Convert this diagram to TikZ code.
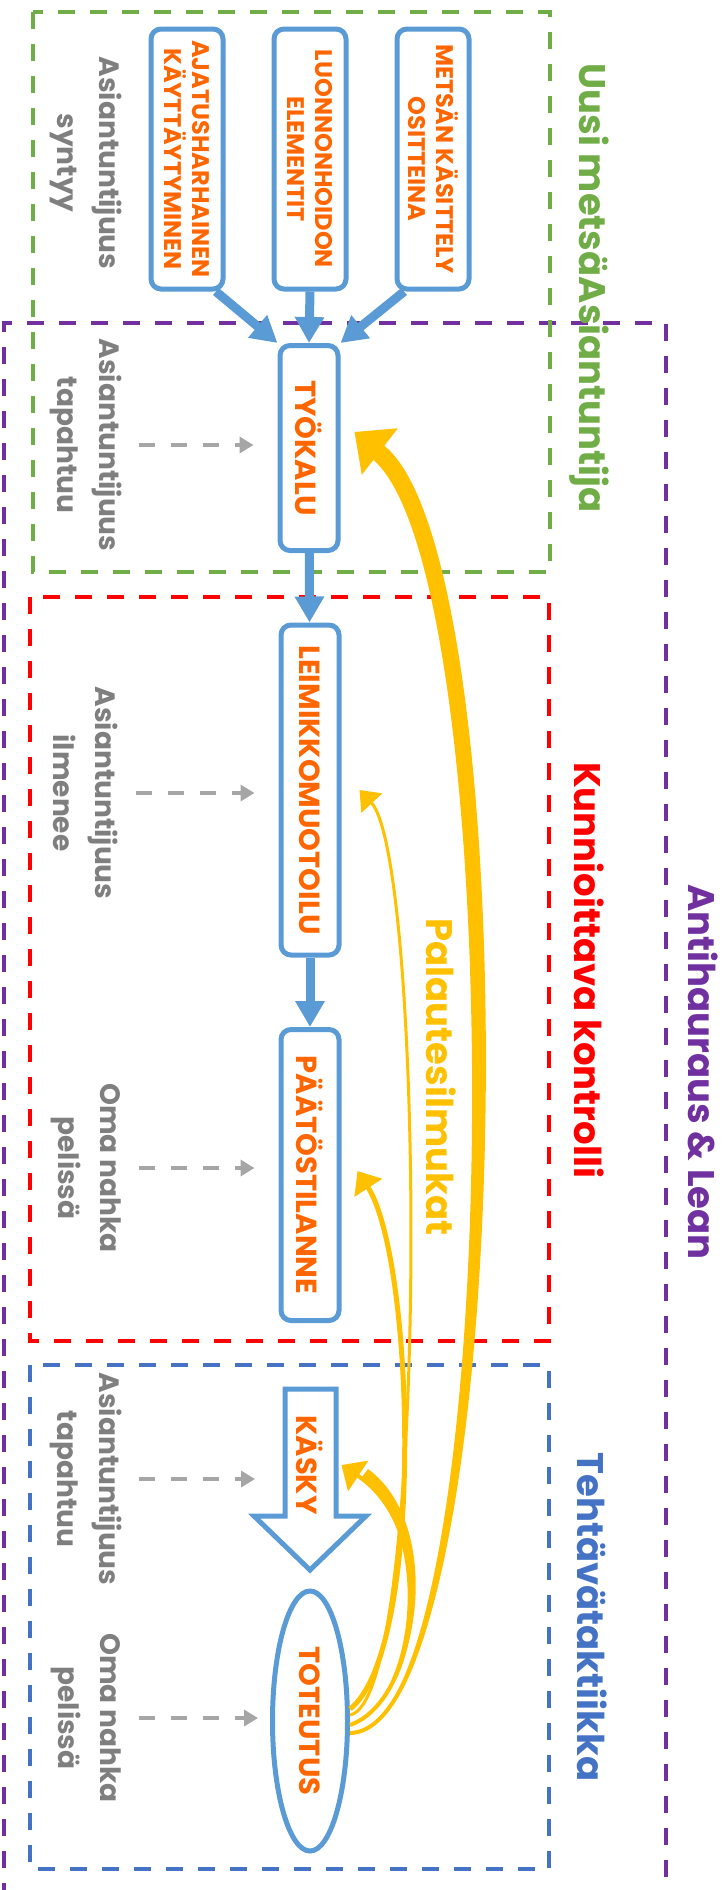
\documentclass[tikz,border=0pt]{standalone}
\usepackage{fontspec}
\setmainfont{Poppins}
\usetikzlibrary{arrows.meta,shapes.geometric,calc}
\definecolor{boxblue}{HTML}{5B9BD5}
\definecolor{txtorange}{HTML}{FF6600}
\definecolor{labgray}{HTML}{7F7F7F}
\definecolor{arrgray}{HTML}{A6A6A6}
\definecolor{uusigreen}{HTML}{70AD47}
\definecolor{antipurple}{HTML}{7030A0}
\definecolor{tehtblue}{HTML}{4472C4}
\definecolor{palyellow}{HTML}{FFC000}

\begin{document}
\begin{tikzpicture}[x=1pt, y=-1pt,
  box/.style={draw=boxblue, line width=5pt, rounded corners=10pt, fill=white, text=txtorange,
    rotate=-90, align=center, inner sep=0pt},
  small/.style={font=\bfseries\fontsize{24pt}{28pt}\selectfont, minimum width=260pt, minimum height=72pt},
  big/.style={font=\bfseries\fontsize{29pt}{33pt}\selectfont, minimum height=58pt},
  side/.style={text=labgray, font=\bfseries\fontsize{28pt}{42pt}\selectfont, rotate=-90, align=center},
  title/.style={font=\bfseries\fontsize{37pt}{44pt}\selectfont, rotate=-90},
  frame/.style={dash pattern=on 17pt off 15pt, line width=4pt},
  flow/.style={draw=boxblue, line width=9pt, -{Triangle[length=26pt,width=28pt]}},
  dasharr/.style={draw=arrgray, line width=4pt, dash pattern=on 16pt off 16pt,
    -{Triangle[length=14pt,width=16pt]}},
  fb/.style={draw=palyellow}]
  \useasboundingbox (0,0) rectangle (724,1890);

  % frames
  \draw[frame, antipurple] (4,1900) -- (4,323) -- (666,323) -- (666,1900);
  \draw[frame, uusigreen] (33,12) rectangle (550,572);
  \draw[frame, red] (30,597) rectangle (549,1341);
  \draw[frame, tehtblue] (30,1365) rectangle (549,1869);

  % titles
  \node[title, text=uusigreen] (tuusi) at (589,288) {Uusi metsäAsiantuntija};
  \node[title, text=antipurple] (tanti) at (703,1072) {Antihauraus \& Lean};
  \node[title, text=red] (tkun) at (589,970) {Kunnioittava kontrolli};
  \node[title, text=palyellow] (tpal) at (441,1077) {Palautesilmukat};
  \node[title, text=tehtblue] (tteh) at (592,1617) {Tehtävätaktiikka};

  % top boxes
  \node[box, small] (aja) at (187,159) {AJATUSHARHAINEN\\KÄYTTÄYTYMINEN};
  \node[box, small] (luo) at (310,159) {LUONNONHOIDON\\ELEMENTIT};
  \node[box, small] (met) at (433,159) {METSÄN KÄSITTELY\\OSITTEINA};

  % main chain
  \node[box, big, minimum width=205pt] (tyo) at (309,448) {TYÖKALU};
  \node[box, big, minimum width=330pt] (lei) at (310,790) {LEIMIKKOMUOTOILU};
  \node[box, big, minimum width=291pt] (paa) at (310,1175) {PÄÄTÖSTILANNE};
  \draw[draw=boxblue, line width=5pt, fill=white, line join=miter]
    (285,1389) -- (336,1389) -- (336,1516) -- (366,1516) -- (310,1570)
    -- (254,1516) -- (285,1516) -- cycle;
  \node[text=txtorange, font=\bfseries\fontsize{29pt}{33pt}\selectfont, rotate=-90] (kas) at (310,1465) {KÄSKY};
  \coordinate (kasl) at (283,1477);
  \node[ellipse, draw=boxblue, line width=5pt, fill=white, text=txtorange, rotate=-90,
    font=\bfseries\fontsize{29pt}{33pt}\selectfont, minimum width=260pt, minimum height=75pt] (tot) at (310,1721) {TOTEUTUS};

  \draw[flow] ($(aja.east)!0.75!(aja.north east)$) -- (tyo.south west);
  \draw[flow] (luo.east) -- (tyo.west);
  \draw[flow] ($(met.east)!0.75!(met.south east)$) -- (tyo.north west);
  \draw[flow] (tyo) -- (lei);
  \draw[flow] (lei) -- (paa);

  % side labels
  \node[side] (s1) at (86,163) {Asiantuntijuus\\syntyy};
  \node[side] (s2) at (86,445) {Asiantuntijuus\\tapahtuu};
  \node[side] (s3) at (86,793) {Asiantuntijuus\\ilmenee};
  \node[side] (s4) at (86,1168) {Oma nahka\\pelissä};
  \node[side] (s5) at (86,1479) {Asiantuntijuus\\tapahtuu};
  \node[side] (s6) at (86,1718) {Oma nahka\\pelissä};

  \draw[dasharr, shorten <=14pt, shorten >=24pt] (s2.north) -- (s2.north -| tyo.south);
  \draw[dasharr, shorten <=14pt, shorten >=24pt] (s3.north) -- (s3.north -| lei.south);
  \draw[dasharr, shorten <=14pt, shorten >=24pt] (s4.north) -- (s4.north -| paa.south);
  \draw[dasharr, shorten <=14pt, shorten >=28pt] (s5.north) -- (s5.north -| kasl);
  \draw[dasharr, shorten <=14pt, shorten >=12pt] (s6.north) -- (s6.north -| tot.south);

  % feedback loops
  \fill[palyellow] ($(tot.north)+(0,12)$) .. controls (518,1730) and (532,552) .. (382,444)
    -- (371,458) .. controls (512,566) and (506,1733) .. ($(tot.north)+(0,12)$);
  \draw[fb, line width=4pt, -{Triangle[length=32pt,width=58pt]}]
    ($(tot.north)+(0,12)$) .. controls (515,1730) and (520,560) .. ($(tyo.north)+(14,-16)$);
  \draw[fb, line width=3pt, -{Triangle[length=18pt,width=28pt]}]
    ($(tot.north)+(0,-6)$) .. controls (430,1700) and (425,860) .. ($(lei.north)+(18,0)$);
  \draw[fb, line width=5pt, -{Triangle[length=20pt,width=32pt]}]
    ($(tot.north)+(0,-12)$) .. controls (425,1650) and (415,1260) .. ($(paa.north)+(16,-4)$);
  \fill[palyellow] ($(tot.north)+(0,4)$) .. controls (420,1700) and (446,1526) .. (368,1469)
    -- (362,1477) .. controls (434,1534) and (414,1704) .. ($(tot.north)+(0,4)$);
  \draw[fb, line width=4pt, -{Triangle[length=20pt,width=36pt]}]
    ($(tot.north)+(0,4)$) .. controls (420,1700) and (440,1530) .. (kas.north -| paa.north);
\end{tikzpicture}
\end{document}
